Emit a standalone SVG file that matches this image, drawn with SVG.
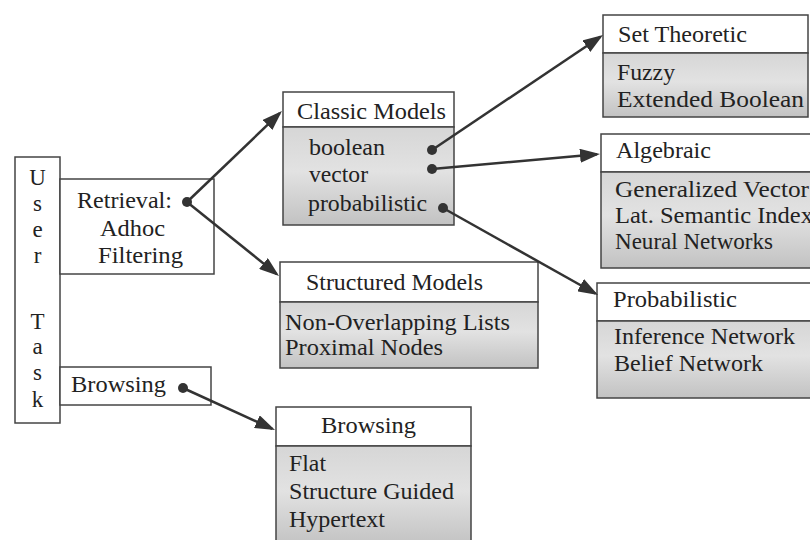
<svg xmlns="http://www.w3.org/2000/svg" width="810" height="540" viewBox="0 0 810 540">
<defs>
<linearGradient id="body" x1="0" y1="0" x2="0" y2="1">
<stop offset="0" stop-color="#d6d6d6"/>
<stop offset="0.45" stop-color="#e2e2e2"/>
<stop offset="1" stop-color="#c2c2c2"/>
</linearGradient>
<marker id="arr" viewBox="0 0 20 14" refX="17" refY="7" markerWidth="20" markerHeight="14" markerUnits="userSpaceOnUse" orient="auto">
<path d="M0,0 L20,7 L0,14 z" fill="#333"/>
</marker>
<style>
text{font-family:"Liberation Serif",serif;font-size:23px;fill:#222}
.hd{fill:#fff;stroke:#444;stroke-width:1.5}
.bd{fill:url(#body);stroke:#444;stroke-width:1.5}
.box{fill:#fff;stroke:#444;stroke-width:1.5}
.ln{stroke:#333;stroke-width:2.5;fill:none;marker-end:url(#arr)}
.dot{fill:#333}
</style>
</defs>
<rect width="810" height="540" fill="#fff"/>
<g font-family="Liberation Serif, serif" font-size="23" fill="#222" lengthAdjust="spacingAndGlyphs">

<g id="user-task">
<rect class="box" x="15" y="157" width="45" height="266"/>
<g text-anchor="middle">
<text x="37.5" y="185">U</text>
<text x="37.5" y="211">s</text>
<text x="37.5" y="237">e</text>
<text x="37.5" y="263">r</text>
<text x="37.5" y="329">T</text>
<text x="37.5" y="354">a</text>
<text x="37.5" y="380">s</text>
<text x="37.5" y="407">k</text>
</g>
</g>

<g id="retrieval">
<rect class="box" x="60" y="179" width="154" height="95"/>
<text x="77" y="208" textLength="95" lengthAdjust="spacingAndGlyphs">Retrieval:</text>
<text x="100" y="236" textLength="65" lengthAdjust="spacingAndGlyphs">Adhoc</text>
<text x="98" y="263" textLength="85" lengthAdjust="spacingAndGlyphs">Filtering</text>
</g>

<g id="browsing-task">
<rect class="box" x="60" y="367" width="151" height="38"/>
<text x="71" y="392" textLength="95" lengthAdjust="spacingAndGlyphs">Browsing</text>
</g>

<g id="classic-models">
<rect class="hd" x="283" y="92" width="171" height="35"/>
<rect class="bd" x="283" y="127" width="171" height="98"/>
<text x="297" y="119" textLength="149" lengthAdjust="spacingAndGlyphs">Classic Models</text>
<text x="309" y="155" textLength="76" lengthAdjust="spacingAndGlyphs">boolean</text>
<text x="309" y="182" textLength="59" lengthAdjust="spacingAndGlyphs">vector</text>
<text x="308" y="211" textLength="119" lengthAdjust="spacingAndGlyphs">probabilistic</text>
</g>

<g id="structured-models">
<rect class="hd" x="280" y="262" width="258" height="40"/>
<rect class="bd" x="280" y="302" width="258" height="66"/>
<text x="306" y="290" textLength="177" lengthAdjust="spacingAndGlyphs">Structured Models</text>
<text x="285" y="330" textLength="225" lengthAdjust="spacingAndGlyphs">Non-Overlapping Lists</text>
<text x="285" y="355" textLength="158" lengthAdjust="spacingAndGlyphs">Proximal Nodes</text>
</g>

<g id="browsing">
<rect class="hd" x="276" y="407" width="195" height="39"/>
<rect class="bd" x="276" y="446" width="195" height="100"/>
<text x="321" y="433" textLength="95" lengthAdjust="spacingAndGlyphs">Browsing</text>
<text x="289" y="471" textLength="37" lengthAdjust="spacingAndGlyphs">Flat</text>
<text x="289" y="499" textLength="165" lengthAdjust="spacingAndGlyphs">Structure Guided</text>
<text x="289" y="527" textLength="96" lengthAdjust="spacingAndGlyphs">Hypertext</text>
</g>

<g id="set-theoretic">
<rect class="hd" x="603" y="15" width="205" height="38"/>
<rect class="bd" x="603" y="53" width="205" height="64"/>
<text x="618" y="42" textLength="129" lengthAdjust="spacingAndGlyphs">Set Theoretic</text>
<text x="617" y="80" textLength="58" lengthAdjust="spacingAndGlyphs">Fuzzy</text>
<text x="617" y="107" textLength="187" lengthAdjust="spacingAndGlyphs">Extended Boolean</text>
</g>

<g id="algebraic">
<rect class="hd" x="601" y="134" width="215" height="38"/>
<rect class="bd" x="601" y="172" width="215" height="96"/>
<text x="616" y="158" textLength="95" lengthAdjust="spacingAndGlyphs">Algebraic</text>
<text x="615" y="197" textLength="194" lengthAdjust="spacingAndGlyphs">Generalized Vector</text>
<text x="615" y="223" textLength="198" lengthAdjust="spacingAndGlyphs">Lat. Semantic Index</text>
<text x="615" y="249" textLength="158" lengthAdjust="spacingAndGlyphs">Neural Networks</text>
</g>

<g id="probabilistic">
<rect class="hd" x="597" y="283" width="220" height="38"/>
<rect class="bd" x="597" y="321" width="220" height="77"/>
<text x="613" y="307" textLength="124" lengthAdjust="spacingAndGlyphs">Probabilistic</text>
<text x="614" y="344" textLength="181" lengthAdjust="spacingAndGlyphs">Inference Network</text>
<text x="614" y="371" textLength="149" lengthAdjust="spacingAndGlyphs">Belief Network</text>
</g>

</g>

<g id="connectors">
<line class="ln" x1="187" y1="202" x2="279.8" y2="113.1"/>
<line class="ln" x1="187" y1="202" x2="276.7" y2="274.1"/>
<line class="ln" x1="183" y1="388" x2="272.3" y2="428.8"/>
<line class="ln" x1="432" y1="150" x2="600.5" y2="36.7"/>
<line class="ln" x1="432" y1="169" x2="597" y2="154.3"/>
<line class="ln" x1="443" y1="208" x2="595.4" y2="293.5"/>
<circle class="dot" cx="187" cy="202" r="5"/>
<circle class="dot" cx="183" cy="388" r="5"/>
<circle class="dot" cx="432" cy="150" r="5"/>
<circle class="dot" cx="432" cy="169" r="5"/>
<circle class="dot" cx="443" cy="208" r="5"/>
</g>
</svg>
